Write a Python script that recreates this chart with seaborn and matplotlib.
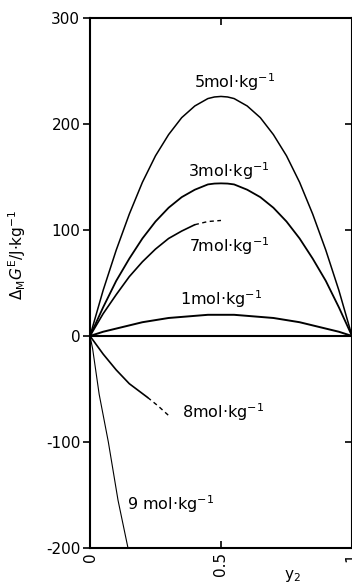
import matplotlib
matplotlib.use("Agg")
import matplotlib.pyplot as plt
import seaborn as sns

sns.set_theme(style="white")
plt.rcParams['font.family'] = ['DejaVu Sans']
plt.rcParams['mathtext.fontset'] = 'dejavusans'
plt.rcParams['axes.unicode_minus'] = False
plt.rcParams['text.color'] = 'black'
plt.rcParams['axes.labelcolor'] = 'black'
plt.rcParams['xtick.color'] = 'black'
plt.rcParams['ytick.color'] = 'black'

# data
x_full = [0, .05, .1, .15, .2, .25, .3, .35, .4, .45, .475, .5, .525, .55, .6, .65, .7, .75, .8, .85, .9, .95, 1]
y_5 = [0, 43, 81, 115, 145, 170, 190, 206, 217, 224, 225.5, 226, 225.5, 224, 217, 206, 190, 170, 145, 115, 81, 43, 0]
y_3 = [0, 27, 52, 73, 92, 108, 121, 131, 138, 143, 143.8, 144, 143.8, 143, 138, 131, 121, 108, 92, 73, 52, 27, 0]
y_1 = [0, 4, 7, 10, 13, 15, 17, 18, 19, 20, 20, 20, 20, 20, 19, 18, 17, 15, 13, 10, 7, 4, 0]
x_7 = [0, .05, .1, .15, .2, .25, .3, .35, .4]
y_7 = [0, 21, 39, 56, 70, 82, 92, 99, 105]
x_7d = [.4, .45, .5]
y_7d = [105, 108, 109]
x_8 = [0, .05, .1, .15, .22]
y_8 = [0, -17, -32, -45, -58]
x_8d = [.22, .26, .30]
y_8d = [-58, -66, -75]
x_9 = [0, .01, .035, .07, .107, .145, .15]
y_9 = [0, -12, -55, -100, -155, -200, -206]
x_zero = [0, 1]
y_zero = [0, 0]

labels = [r"5mol$\cdot$kg$^{-1}$", r"3mol$\cdot$kg$^{-1}$", r"7mol$\cdot$kg$^{-1}$",
          r"1mol$\cdot$kg$^{-1}$", r"8mol$\cdot$kg$^{-1}$", r"9 mol$\cdot$kg$^{-1}$"]
yticks = [-200, -100, 0, 100, 200, 300]
xticks = [0, 0.5, 1]
xticklabels = ["0", "0.5", "1"]

fig = plt.figure(figsize=(3.52, 5.83), dpi=100)
ax = fig.add_axes([90/352, 1-548/583, 262/352, (548-18)/583])

kw = dict(color="black", ax=ax, legend=False)
sns.lineplot(x=x_full, y=y_5, lw=1.1, **kw)
sns.lineplot(x=x_full, y=y_3, lw=1.3, **kw)
sns.lineplot(x=x_full, y=y_1, lw=1.4, **kw)
sns.lineplot(x=x_7, y=y_7, lw=1.2, **kw)
sns.lineplot(x=x_7d, y=y_7d, lw=1.0, linestyle=(0, (3, 2.5)), **kw)
sns.lineplot(x=x_8, y=y_8, lw=1.2, **kw)
sns.lineplot(x=x_8d, y=y_8d, lw=1.0, linestyle=(0, (3, 2.5)), **kw)
sns.lineplot(x=x_9, y=y_9, lw=0.8, **kw)
sns.lineplot(x=x_zero, y=y_zero, lw=1.5, **kw)

ax.set_xlim(0, 1)
ax.set_ylim(-200, 300)
ax.set_yticks(yticks)
ax.set_xticks(xticks)
ax.set_xticklabels(xticklabels, rotation=90, fontsize=11)
ax.tick_params(axis='y', direction='out', length=5, width=1.2, labelsize=11, pad=2, left=True)
ax.tick_params(axis='x', direction='in', length=5, width=1.2, pad=3, top=True, bottom=True)
sec = ax.secondary_yaxis('right')
sec.set_yticks(yticks)
sec.tick_params(direction='in', length=5, width=1.2, labelright=False)
sec.spines['right'].set_visible(False)
for s in ax.spines.values():
    s.set_color("black")
    s.set_linewidth(1.5)

fs = 11.5
ax.text(0.55, 234, labels[0], ha="center", va="baseline", fontsize=fs)
ax.text(0.53, 150, labels[1], ha="center", va="baseline", fontsize=fs)
ax.text(0.53, 79, labels[2], ha="center", va="baseline", fontsize=fs)
ax.text(0.5, 29, labels[3], ha="center", va="baseline", fontsize=fs)
ax.text(0.35, -72, labels[4], ha="left", va="center", fontsize=fs)
ax.text(0.14, -159, labels[5], ha="left", va="center", fontsize=fs)

ax.set_ylabel(r"$\Delta_{\rm M}G^{\rm E}$/J$\cdot$kg$^{-1}$", fontsize=11)
ax.yaxis.set_label_coords(-0.237, 0.553)
fig.text(292/352, 1-576/583, r"y$_2$", ha="center", va="center", fontsize=11)

fig.savefig("out.png", dpi=100)
